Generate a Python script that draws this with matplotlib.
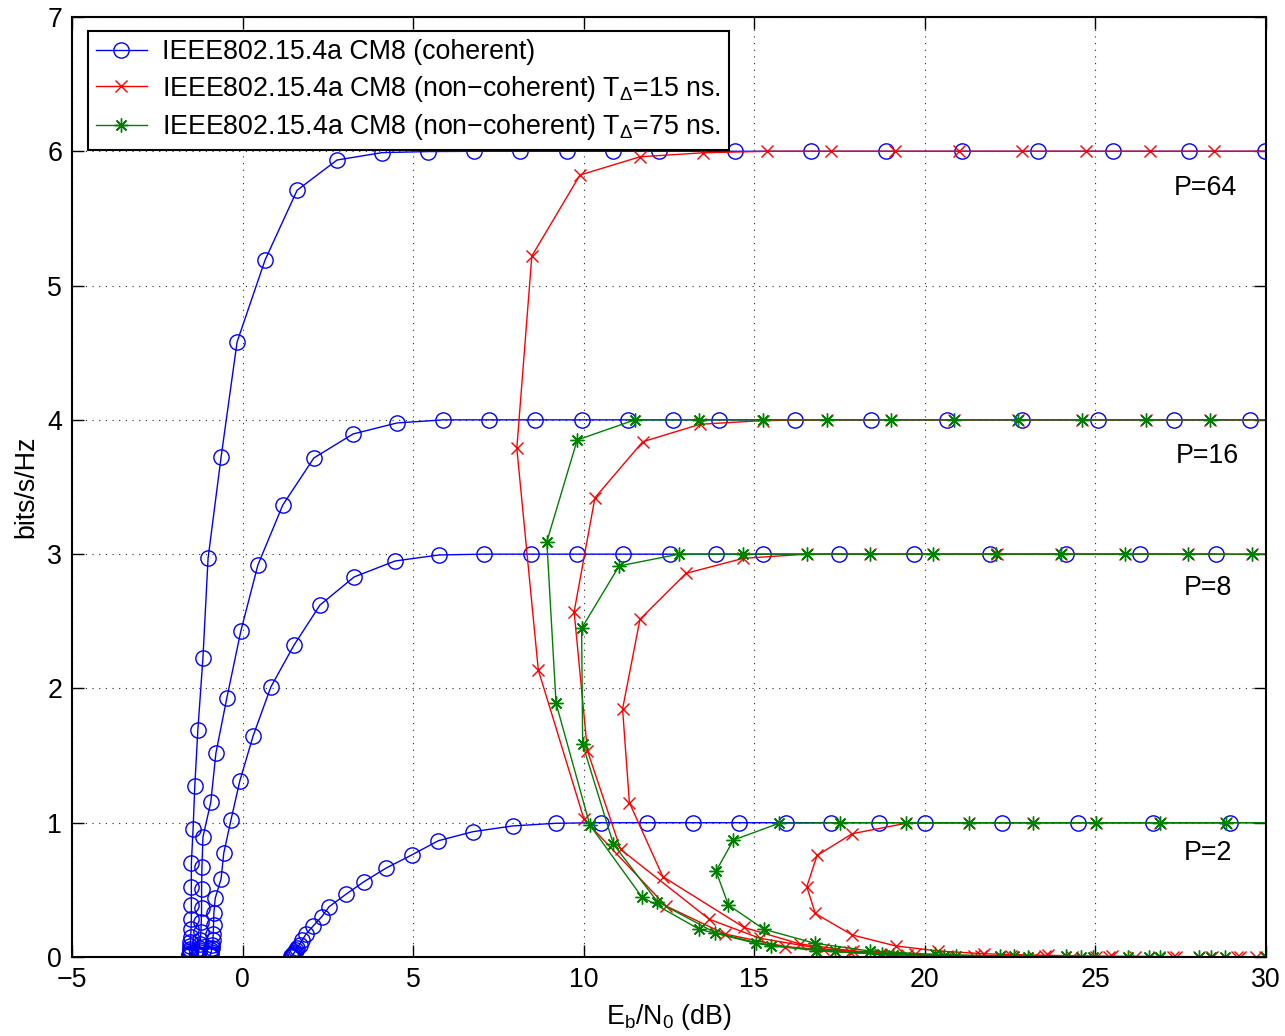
import matplotlib
matplotlib.use("Agg")
import matplotlib.pyplot as plt

plt.rcParams["font.family"] = ["Liberation Sans", "DejaVu Sans"]
plt.rcParams["mathtext.fontset"] = "custom"
plt.rcParams["mathtext.rm"] = "Liberation Sans"
plt.rcParams["mathtext.it"] = "Liberation Sans:italic"
plt.rcParams["mathtext.bf"] = "Liberation Sans:bold"

# ---- coherent receiver (blue) ----
coh_p64_x = [-1.56, -1.56, -1.56, -1.55, -1.55, -1.55, -1.54, -1.54, -1.53, -1.52,
             -1.51, -1.50, -1.50, -1.50, -1.50, -1.45, -1.40, -1.31, -1.16, -1.01,
             -0.63, -0.16, 0.66, 1.60, 2.77, 4.09, 5.44, 6.78, 8.13, 9.51,
             10.86, 12.21, 14.44, 16.66, 18.86, 21.09, 23.32, 25.52, 27.75, 29.97]
coh_p64_y = [0.009, 0.012, 0.016, 0.022, 0.031, 0.042, 0.058, 0.080, 0.110, 0.150,
             0.205, 0.280, 0.385, 0.520, 0.700, 0.950, 1.270, 1.690, 2.230, 2.970,
             3.720, 4.580, 5.190, 5.710, 5.935, 5.990, 5.998, 6.0, 6.0, 6.0,
             6.0, 6.0, 6.0, 6.0, 6.0, 6.0, 6.0, 6.0, 6.0, 6.0]

coh_p16_x = [-1.32, -1.31, -1.31, -1.30, -1.29, -1.28, -1.27, -1.26, -1.24, -1.22,
             -1.21, -1.20, -1.20, -1.19, -1.16, -0.93, -0.78, -0.46, -0.05, 0.45,
             1.18, 2.09, 3.24, 4.53, 5.88, 7.22, 8.57, 9.94, 11.29, 12.63,
             13.98, 16.19, 18.42, 20.64, 22.85, 25.08, 27.29, 29.53]
coh_p16_y = [0.010, 0.014, 0.019, 0.026, 0.036, 0.050, 0.068, 0.094, 0.130, 0.186,
             0.261, 0.365, 0.506, 0.670, 0.894, 1.154, 1.519, 1.929, 2.427, 2.919,
             3.366, 3.716, 3.895, 3.977, 4.0, 4.0, 4.0, 4.0, 4.0, 4.0,
             4.0, 4.0, 4.0, 4.0, 4.0, 4.0, 4.0, 4.0]

coh_p8_x = [-0.96, -0.95, -0.94, -0.93, -0.92, -0.91, -0.90, -0.89, -0.87, -0.86,
            -0.85, -0.84, -0.80, -0.63, -0.55, -0.34, -0.08, 0.31, 0.83, 1.51,
            2.27, 3.27, 4.47, 5.76, 7.08, 8.46, 9.80, 11.15, 12.53, 13.88,
            15.25, 17.47, 19.68, 21.90, 24.13, 26.31, 28.54]
coh_p8_y = [0.010, 0.014, 0.019, 0.026, 0.036, 0.050, 0.068, 0.092, 0.126, 0.171,
            0.242, 0.328, 0.439, 0.581, 0.774, 1.020, 1.311, 1.646, 2.011, 2.323,
            2.621, 2.830, 2.949, 2.994, 3.0, 3.0, 3.0, 3.0, 3.0, 3.0,
            3.0, 3.0, 3.0, 3.0, 3.0, 3.0, 3.0]

coh_p2_x = [1.42, 1.43, 1.44, 1.45, 1.47, 1.49, 1.51, 1.54, 1.57, 1.61,
            1.67, 1.75, 1.86, 2.07, 2.32, 2.54, 3.03, 3.56, 4.20, 4.96,
            5.74, 6.75, 7.92, 9.19, 10.51, 11.85, 13.20, 14.56, 15.93, 17.26,
            18.65, 20.01, 22.25, 24.49, 26.68, 28.94]
coh_p2_y = [0.003, 0.005, 0.008, 0.011, 0.016, 0.022, 0.030, 0.040, 0.053, 0.070,
            0.093, 0.125, 0.171, 0.231, 0.300, 0.375, 0.467, 0.561, 0.661, 0.760,
            0.866, 0.933, 0.976, 0.996, 1.0, 1.0, 1.0, 1.0, 1.0, 1.0,
            1.0, 1.0, 1.0, 1.0, 1.0, 1.0]

# ---- non-coherent receiver, T_delta = 15 ns (red) ----
nc15_p64_x = [29.96, 28.43, 26.86, 25.03, 23.21, 21.44, 19.47, 17.80, 15.90, 14.14,
              12.41, 10.01, 8.67, 8.04, 8.48, 9.89, 11.65, 13.51, 15.37, 17.25,
              19.13, 21.00, 22.85, 24.73, 26.60, 28.48, 30.35]
nc15_p64_y = [0.001, 0.001, 0.001, 0.002, 0.003, 0.006, 0.015, 0.034, 0.078, 0.171,
              0.380, 1.025, 2.137, 3.788, 5.220, 5.823, 5.959, 5.989, 6.0, 6.0,
              6.0, 6.0, 6.0, 6.0, 6.0, 6.0, 6.0]

nc15_p16_x = [29.71, 28.04, 26.17, 24.30, 22.52, 20.65, 18.68, 17.01, 15.17, 13.68,
              11.08, 10.11, 9.72, 10.33, 11.73, 13.41, 15.27, 17.13, 19.01, 20.86,
              22.73, 24.61, 26.48, 28.36, 30.24]
nc15_p16_y = [0.001, 0.001, 0.001, 0.002, 0.004, 0.010, 0.026, 0.060, 0.139, 0.281,
              0.802, 1.536, 2.571, 3.420, 3.837, 3.967, 3.995, 4.0, 4.0, 4.0,
              4.0, 4.0, 4.0, 4.0, 4.0]

nc15_p8_x = [29.15, 27.28, 25.40, 23.52, 21.65, 19.71, 17.90, 16.34, 14.70, 12.32,
             11.34, 11.14, 11.65, 13.00, 14.68, 16.55, 18.39, 20.24, 22.12, 23.99,
             25.87, 27.72, 29.59, 31.46]
nc15_p8_y = [0.001, 0.001, 0.002, 0.004, 0.009, 0.019, 0.045, 0.097, 0.220, 0.598,
             1.149, 1.847, 2.515, 2.857, 2.969, 3.0, 3.0, 3.0, 3.0, 3.0,
             3.0, 3.0, 3.0, 3.0]

nc15_p2_x = [29.24, 27.36, 25.49, 23.61, 21.74, 20.38, 19.15, 17.87, 16.79, 16.54,
             16.84, 17.87, 19.45, 21.29, 23.18, 25.03, 26.90, 28.82, 30.71]
nc15_p2_y = [0.002, 0.003, 0.006, 0.012, 0.024, 0.045, 0.082, 0.164, 0.324, 0.523,
             0.756, 0.918, 0.996, 1.0, 1.0, 1.0, 1.0, 1.0, 1.0]

# ---- non-coherent receiver, T_delta = 75 ns (green) ----
nc75_p16_x = [28.38, 26.56, 24.59, 22.62, 20.55, 18.73, 16.81, 15.05, 13.39, 11.70,
              10.18, 9.19, 8.92, 9.81, 11.50, 13.38, 15.27, 17.14, 19.00, 20.86,
              22.72, 24.60, 26.47, 28.35, 30.22]
nc75_p16_y = [0.001, 0.001, 0.002, 0.004, 0.009, 0.020, 0.048, 0.102, 0.206, 0.449,
              0.983, 1.889, 3.093, 3.850, 4.0, 4.0, 4.0, 4.0, 4.0, 4.0,
              4.0, 4.0, 4.0, 4.0, 4.0]

nc75_p8_x = [28.80, 26.90, 24.93, 23.01, 20.90, 19.08, 17.36, 15.48, 13.85, 12.16,
             10.87, 9.97, 9.94, 11.04, 12.79, 14.67, 16.55, 18.39, 20.25, 22.09,
             23.98, 25.86, 27.72, 29.58, 31.46]
nc75_p8_y = [0.001, 0.001, 0.002, 0.003, 0.007, 0.018, 0.041, 0.082, 0.181, 0.412,
             0.841, 1.584, 2.448, 2.912, 3.0, 3.0, 3.0, 3.0, 3.0, 3.0,
             3.0, 3.0, 3.0, 3.0, 3.0]

nc75_p2_x = [30.00, 28.04, 25.97, 24.14, 22.20, 20.31, 18.39, 16.78, 15.29, 14.24,
             13.88, 14.39, 15.73, 17.52, 19.44, 21.29, 23.18, 25.03, 26.90, 28.82,
             30.70]
nc75_p2_y = [0.001, 0.001, 0.002, 0.004, 0.008, 0.019, 0.045, 0.102, 0.206, 0.387,
             0.640, 0.871, 0.996, 1.0, 1.0, 1.0, 1.0, 1.0, 1.0, 1.0,
             1.0]

legend_labels = [
    "IEEE802.15.4a CM8 (coherent)",
    "IEEE802.15.4a CM8 (non\u2212coherent) T$_{\\Delta}$=15 ns.",
    "IEEE802.15.4a CM8 (non\u2212coherent) T$_{\\Delta}$=75 ns.",
]
curve_labels = ["P=64", "P=16", "P=8", "P=2"]
curve_label_pos = [(28.21, 5.73), (28.27, 3.73), (28.30, 2.75), (28.30, 0.774)]

x_ticks = [-5, 0, 5, 10, 15, 20, 25, 30]
y_ticks = [0, 1, 2, 3, 4, 5, 6, 7]

FS = 19.3
BLUE = (0.0, 0.0, 1.0)
RED = (1.0, 0.0, 0.0)
GREEN = (0.0, 0.5, 0.0)
ASTERISK = (8, 2, 0)

fig = plt.figure(figsize=(12.85, 10.36), dpi=100)
ax = fig.add_axes([0.056, 0.07625, 0.9292, 0.90734])


def draw(x, y, color, marker, ms, label=None):
    ax.plot(x, y, color=color, lw=1.0, marker=marker, ms=ms,
            mfc="none", mec=color, mew=1.0, label=label)


for i, (x, y) in enumerate([(coh_p64_x, coh_p64_y), (coh_p16_x, coh_p16_y),
                            (coh_p8_x, coh_p8_y), (coh_p2_x, coh_p2_y)]):
    draw(x, y, BLUE, "o", 11, legend_labels[0] if i == 0 else None)

for i, (x, y) in enumerate([(nc15_p64_x, nc15_p64_y), (nc15_p16_x, nc15_p16_y),
                            (nc15_p8_x, nc15_p8_y), (nc15_p2_x, nc15_p2_y)]):
    draw(x, y, RED, "x", 9, legend_labels[1] if i == 0 else None)

for i, (x, y) in enumerate([(nc75_p16_x, nc75_p16_y), (nc75_p8_x, nc75_p8_y),
                            (nc75_p2_x, nc75_p2_y)]):
    draw(x, y, GREEN, ASTERISK, 10, legend_labels[2] if i == 0 else None)

for text, (tx, ty) in zip(curve_labels, curve_label_pos):
    ax.text(tx, ty, text, ha="center", va="center", fontsize=FS)

ax.set_xlim(-5, 30)
ax.set_ylim(0, 7)
ax.set_xticks(x_ticks)
ax.set_yticks(y_ticks)
ax.grid(True, color="0.15", linestyle=(0, (1, 5)), linewidth=0.8)
for sp in ax.spines.values():
    sp.set_linewidth(1.5)
ax.tick_params(direction="in", length=8.5, width=1.0, top=True, right=True,
               labelsize=FS, pad=7)

ax.set_xlabel(r"E$_\mathrm{b}$/N$_\mathrm{0}$ (dB)", fontsize=FS, labelpad=7)
ax.set_ylabel("bits/s/Hz", fontsize=FS, labelpad=6)

leg = ax.legend(loc="upper left", bbox_to_anchor=(0.0134, 0.985), borderaxespad=0,
                fontsize=FS, frameon=True, fancybox=False, edgecolor="k",
                framealpha=1, handlelength=1.9, handletextpad=0.55,
                borderpad=0.3, labelspacing=0.32)
leg.get_frame().set_linewidth(1.5)

fig.savefig("out.png", dpi=100)
